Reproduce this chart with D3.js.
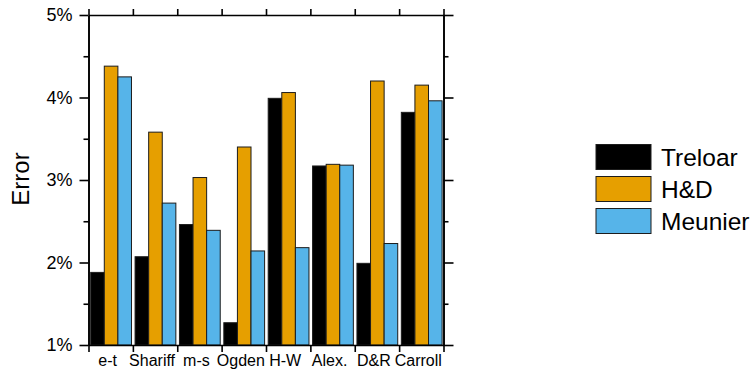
<!DOCTYPE html>
<html>
<head>
<meta charset="utf-8">
<script src="https://cdn.jsdelivr.net/npm/d3@7"></script>
<style>
  html, body { margin: 0; padding: 0; background: #fff; }
  svg { display: block; font-family: "Liberation Sans", Arial, sans-serif; }
</style>
</head>
<body>
<svg id="chart" width="751" height="374"></svg>
<script>
// Error (%) of each model per test, three series
const categories = ["e-t", "Shariff", "m-s", "Ogden", "H-W", "Alex.", "D&R", "Carroll"];
const seriesNames = ["Treloar", "H&D", "Meunier"];
const treloar = [1.88, 2.07, 2.46, 1.27, 3.99, 3.17, 1.99, 3.82];
const hd      = [4.38, 3.58, 3.03, 3.40, 4.06, 3.19, 4.20, 4.15];
const meunier = [4.25, 2.72, 2.39, 2.14, 2.18, 3.18, 2.23, 3.96];
const seriesColors = ["#000000", "#E69F00", "#56B4E9"];
const majorTicks = [1, 2, 3, 4, 5];
const minorTicks = [1.5, 2.5, 3.5, 4.5];

const seriesValues = [treloar, hd, meunier];
const rows = categories.map((c, i) => ({
  cat: c,
  vals: seriesNames.map((s, j) => ({ key: s, value: seriesValues[j][i], color: seriesColors[j] }))
}));

const svg = d3.select("#chart");
const plotLeft = 88.5, plotRight = 443.5, plotTop = 15, plotBottom = 345;

const x = d3.scaleBand().domain(categories).range([plotLeft, plotRight]).padding(0);
const xs = d3.scaleBand().domain(seriesNames).range([2.2, x.bandwidth() - 1.4]).padding(0);
const y = d3.scaleLinear().domain([1, 5]).range([plotBottom, plotTop]);

// Bars
const g = svg.append("g");
g.selectAll("g.grp").data(rows).join("g")
  .attr("class", "grp")
  .attr("transform", d => `translate(${x(d.cat)},0)`)
  .selectAll("rect").data(d => d.vals).join("rect")
  .attr("x", d => xs(d.key))
  .attr("width", xs.bandwidth())
  .attr("y", d => y(d.value))
  .attr("height", d => y(1) - y(d.value))
  .attr("fill", d => d.color)
  .attr("stroke", "#1c1c1c")
  .attr("stroke-width", 1);

// Axes / frame
const axisStyle = sel => {
  sel.selectAll(".domain").attr("stroke", "#000").attr("stroke-width", 1.6);
  sel.selectAll(".tick line").attr("stroke", "#000").attr("stroke-width", 1.6);
};

const yLeft = svg.append("g").attr("transform", `translate(${plotLeft},0)`)
  .call(d3.axisLeft(y).tickValues(majorTicks).tickSize(9).tickSizeOuter(0).tickPadding(7)
    .tickFormat(d => d + "%"));
yLeft.call(axisStyle);
yLeft.selectAll("text").attr("font-size", 18).attr("fill", "#000")
  .attr("font-family", "Liberation Sans, Arial, sans-serif");

svg.append("g").attr("transform", `translate(${plotLeft},0)`)
  .call(d3.axisLeft(y).tickValues(minorTicks).tickSize(5).tickSizeOuter(0).tickFormat(""))
  .call(axisStyle);

svg.append("g").attr("transform", `translate(${plotRight},0)`)
  .call(d3.axisRight(y).tickValues(majorTicks).tickSize(10).tickSizeOuter(0).tickFormat(""))
  .call(axisStyle);
svg.append("g").attr("transform", `translate(${plotRight},0)`)
  .call(d3.axisRight(y).tickValues(minorTicks).tickSize(5).tickSizeOuter(0).tickFormat(""))
  .call(axisStyle);

// Boundary ticks between groups, top and bottom
const edges = categories.map(c => x(c)).concat([plotRight]);
const xEdge = d3.scaleLinear().domain([plotLeft, plotRight]).range([plotLeft, plotRight]);
svg.append("g").attr("transform", `translate(0,${plotBottom})`)
  .call(d3.axisBottom(xEdge).tickValues(edges).tickSize(7).tickSizeOuter(0).tickFormat(""))
  .call(axisStyle);
svg.append("g").attr("transform", `translate(0,${plotTop})`)
  .call(d3.axisTop(xEdge).tickValues(edges).tickSize(6).tickSizeOuter(0).tickFormat(""))
  .call(axisStyle);

// Category labels
const xLab = svg.append("g").attr("transform", `translate(0,${plotBottom})`)
  .call(d3.axisBottom(x).tickSize(0).tickPadding(10));
xLab.select(".domain").remove();
xLab.selectAll("text").attr("font-size", 16).attr("fill", "#000").attr("dx", -3)
  .attr("font-family", "Liberation Sans, Arial, sans-serif");

// Y title
svg.append("text")
  .attr("transform", `translate(29,179) rotate(-90)`)
  .attr("text-anchor", "middle")
  .attr("font-size", 24)
  .text("Error");

// Legend
const leg = svg.append("g").attr("transform", "translate(596,144.5)");
const li = leg.selectAll("g").data(seriesNames).join("g")
  .attr("transform", (d, i) => `translate(0,${i * 32})`);
li.append("rect").attr("width", 55).attr("height", 25)
  .attr("fill", (d, i) => seriesColors[i]).attr("stroke", "#1c1c1c").attr("stroke-width", 1);
li.append("text").attr("x", 65).attr("y", 12.5).attr("dy", "0.36em")
  .attr("font-size", 24.5).text(d => d);
</script>
</body>
</html>
